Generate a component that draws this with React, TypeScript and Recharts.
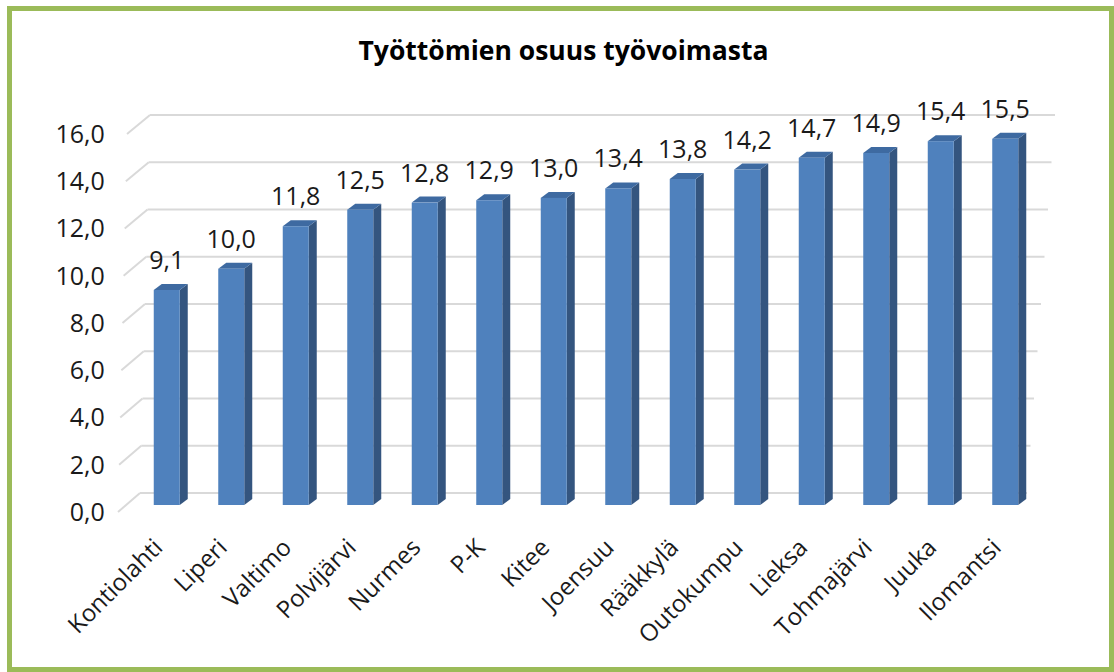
import React from 'react';
import { BarChart, Bar, XAxis, YAxis, CartesianGrid, LabelList } from 'recharts';

const title = 'Työttömien osuus työvoimasta';
const categories = ['Kontiolahti', 'Liperi', 'Valtimo', 'Polvijärvi', 'Nurmes', 'P-K', 'Kitee', 'Joensuu', 'Rääkkylä', 'Outokumpu', 'Lieksa', 'Tohmajärvi', 'Juuka', 'Ilomantsi'];
const values = [9.1, 10.0, 11.8, 12.5, 12.8, 12.9, 13.0, 13.4, 13.8, 14.2, 14.7, 14.9, 15.4, 15.5];
const yTicks = [0, 2, 4, 6, 8, 10, 12, 14, 16];

const data = categories.map((name, i) => ({ name, value: values[i] }));

const FONT = '"Open Sans", sans-serif';
const fmt = (v: number) => v.toFixed(1).replace('.', ',');

const DEPTH_X = 8;
const DEPTH_Y = 6;
const PLOT_TOP = 127;
const PLOT_BOTTOM = 505;
const PLOT_WIDTH = 903;

const Bar3D = (props: any) => {
  const { x, y, width, height } = props;
  const dx = DEPTH_X;
  const dy = DEPTH_Y;
  return (
    <g>
      <polygon
        points={`${x + width},${y} ${x + width + dx},${y - dy} ${x + width + dx},${y + height - dy} ${x + width},${y + height}`}
        fill="#34557F"
      />
      <polygon
        points={`${x},${y} ${x + dx},${y - dy} ${x + width + dx},${y - dy} ${x + width},${y}`}
        fill="#3E6AA1"
      />
      <rect x={x} y={y} width={width} height={height} fill="#4F81BD" />
    </g>
  );
};

const GridLine = (props: any) => {
  const { x1, y1, index } = props;
  const t = (PLOT_BOTTOM - y1) / (PLOT_BOTTOM - PLOT_TOP);
  const backY = y1 - 12;
  const frontY = y1 + 7;
  const leftBack = x1 + 5.25 + 10 * t;
  const leftFront = x1 - 16.75 + 9 * t;
  const right = x1 + PLOT_WIDTH - 10.75 + 28 * t;
  return (
    <g key={`grid-${index}-${y1}`}>
      <line x1={leftFront} y1={frontY} x2={leftBack} y2={backY} stroke="#D9D9D9" strokeWidth={2} />
      <line x1={leftBack} y1={backY} x2={right} y2={backY} stroke="#D9D9D9" strokeWidth={2} />
    </g>
  );
};

const YTick = (props: any) => {
  const { x, y, payload } = props;
  return (
    <text x={x - 22} y={y + 7} dy="0.35em" textAnchor="end" fontFamily={FONT} fontSize={25} fill="#1a1a1a">
      {fmt(payload.value)}
    </text>
  );
};

const XTick = (props: any) => {
  const { x, y, payload } = props;
  const ax = x - 3;
  const ay = y + 36;
  return (
    <text x={ax} y={ay} textAnchor="end" fontFamily={FONT} fontSize={24} fill="#1a1a1a" transform={`rotate(-45, ${ax}, ${ay})`}>
      {payload.value}
    </text>
  );
};

const ValueLabel = (props: any) => {
  const { x, y, width, value } = props;
  return (
    <text x={x + width / 2} y={y - 21} textAnchor="middle" fontFamily={FONT} fontSize={25} fill="#1a1a1a">
      {fmt(value)}
    </text>
  );
};

export default function App() {
  return (
    <div style={{ position: 'absolute', left: 0, top: 0, width: 1114, height: 672, background: '#fff' }}>
      <svg width={1114} height={672} style={{ position: 'absolute', left: 0, top: 0 }}>
        <rect x={9.5} y={8.5} width={1102} height={661} fill="#fff" stroke="#9BBB59" strokeWidth={5} />
        <text x={563.5} y={60} textAnchor="middle" fontFamily={FONT} fontWeight="bold" fontSize={26.5} fill="#000">
          {title}
        </text>
      </svg>
      <div style={{ position: 'absolute', left: 0, top: 0 }}>
        <BarChart
          width={1114}
          height={672}
          data={data}
          margin={{ top: PLOT_TOP, right: 76.25, bottom: 0, left: 8 }}
          barSize={26}
        >
          <CartesianGrid vertical={false} horizontal={GridLine as any} />
          <XAxis
            dataKey="name"
            height={672 - PLOT_BOTTOM}
            axisLine={false}
            tickLine={false}
            interval={0}
            tick={<XTick />}
          />
          <YAxis
            width={126.75}
            domain={[0, 16]}
            ticks={yTicks}
            axisLine={false}
            tickLine={false}
            tick={<YTick />}
            interval={0}
          />
          <Bar dataKey="value" shape={<Bar3D />} isAnimationActive={false}>
            <LabelList dataKey="value" content={<ValueLabel />} />
          </Bar>
        </BarChart>
      </div>
    </div>
  );
}
